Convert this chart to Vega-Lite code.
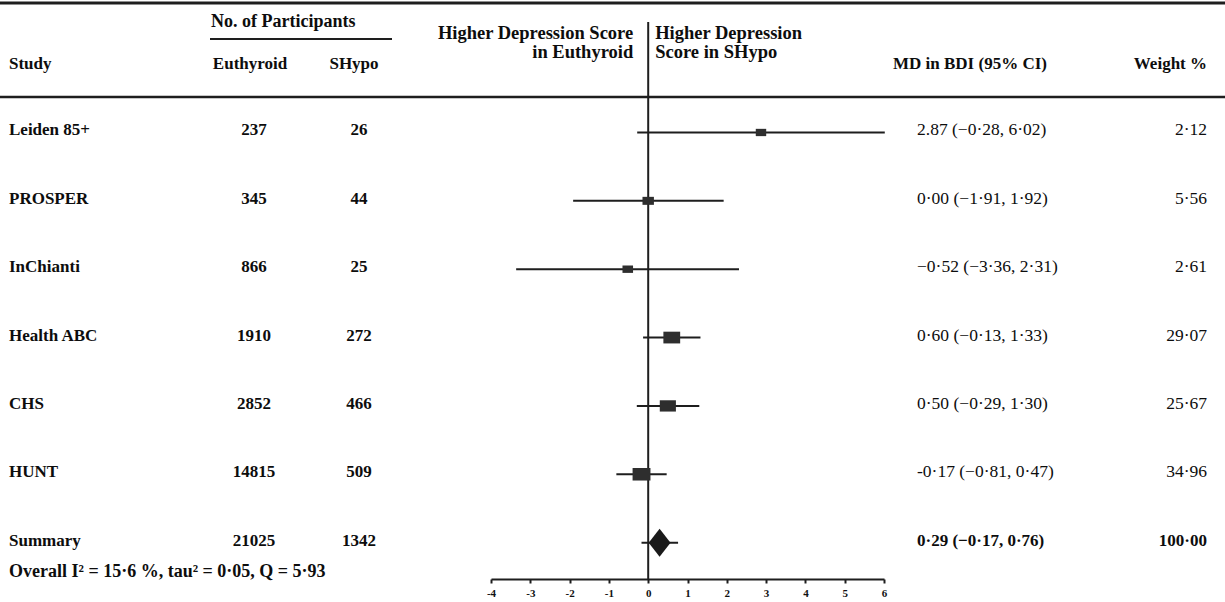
{
  "$schema": "https://vega.github.io/schema/vega-lite/v6.json",
  "width": 1225,
  "height": 579,
  "autosize": {"type": "none"},
  "padding": {"left": 0, "top": 0, "right": 0, "bottom": 23},
  "background": "white",
  "config": {
    "view": {"stroke": null},
    "font": "Liberation Serif",
    "text": {"font": "Liberation Serif", "fontSize": 17, "color": "#0d0d0d", "baseline": "middle"}
  },
  "data": {
    "values": [
      {"study": "Leiden 85+", "row": 1, "euth": 237, "shypo": 26, "md": 2.87, "lo": -0.28, "hi": 6.02, "weight": 2.12, "ci": "2.87 (−0·28, 6·02)", "wt": "2·12", "kind": "study"},
      {"study": "PROSPER", "row": 2, "euth": 345, "shypo": 44, "md": 0.0, "lo": -1.91, "hi": 1.92, "weight": 5.56, "ci": "0·00  (−1·91, 1·92)", "wt": "5·56", "kind": "study"},
      {"study": "InChianti", "row": 3, "euth": 866, "shypo": 25, "md": -0.52, "lo": -3.36, "hi": 2.31, "weight": 2.61, "ci": "−0·52  (−3·36, 2·31)", "wt": "2·61", "kind": "study"},
      {"study": "Health ABC", "row": 4, "euth": 1910, "shypo": 272, "md": 0.6, "lo": -0.13, "hi": 1.33, "weight": 29.07, "ci": "0·60  (−0·13, 1·33)", "wt": "29·07", "kind": "study"},
      {"study": "CHS", "row": 5, "euth": 2852, "shypo": 466, "md": 0.5, "lo": -0.29, "hi": 1.3, "weight": 25.67, "ci": "0·50 (−0·29, 1·30)", "wt": "25·67", "kind": "study"},
      {"study": "HUNT", "row": 6, "euth": 14815, "shypo": 509, "md": -0.17, "lo": -0.81, "hi": 0.47, "weight": 34.96, "ci": "-0·17 (−0·81, 0·47)", "wt": "34·96", "kind": "study"},
      {"study": "Summary", "row": 7, "euth": 21025, "shypo": 1342, "md": 0.29, "lo": -0.17, "hi": 0.76, "weight": 100, "ci": "0·29 (−0·17, 0·76)", "wt": "100·00", "kind": "summary"}
    ]
  },
  "layer": [
    {
      "layer": [
        {
          "mark": {"type": "rule", "color": "#1e1e1e", "strokeWidth": 2},
          "encoding": {
            "x": {
              "field": "lo", "type": "quantitative", "title": null,
              "scale": {"domain": [-4, 6], "range": [491, 884], "nice": false, "zero": false},
              "axis": {
                "title": null, "values": [-4, -3, -2, -1, 0, 1, 2, 3, 4, 5, 6],
                "labelExpr": "'' + datum.value", "grid": false,
                "domainColor": "#1e1e1e", "domainWidth": 2,
                "tickColor": "#1e1e1e", "tickWidth": 2, "tickSize": 4,
                "labelFont": "Liberation Serif", "labelFontSize": 11, "labelFontWeight": "bold",
                "labelColor": "#111111", "labelPadding": 4, "labelFlush": false
              }
            },
            "x2": {"field": "hi", "title": null},
            "y": {
              "field": "row", "type": "quantitative",
              "scale": {"domain": [-0.938, 7.532], "reverse": true, "nice": false, "zero": false},
              "axis": null
            }
          }
        },
        {
          "data": {"values": [{}]},
          "mark": {"type": "rule", "color": "#1e1e1e", "strokeWidth": 2},
          "encoding": {
            "x": {"datum": 0, "type": "quantitative", "title": null},
            "y": {"datum": -0.616, "type": "quantitative", "axis": null},
            "y2": {"datum": 7.532}
          }
        },
        {
          "transform": [{"filter": "datum.kind == 'study'"}],
          "mark": {"type": "point", "filled": true, "opacity": 1, "color": "#2e2e2e", "strokeWidth": 0, "shape": "M-1,-0.7L1,-0.7L1,0.7L-1,0.7Z"},
          "encoding": {
            "x": {"field": "md", "type": "quantitative", "title": null},
            "y": {"field": "row", "type": "quantitative", "axis": null},
            "size": {"field": "weight", "type": "quantitative", "scale": {"domain": [0, 35], "range": [95, 320]}, "legend": null}
          }
        },
        {
          "transform": [{"filter": "datum.kind == 'summary'"}],
          "mark": {"type": "point", "filled": true, "opacity": 1, "color": "#1a1a1a", "strokeWidth": 0, "shape": "M-0.78,0L0,-1L0.78,0L0,1Z", "size": 784},
          "encoding": {
            "x": {"field": "md", "type": "quantitative", "title": null},
            "y": {"field": "row", "type": "quantitative", "axis": null}
          }
        },
        {
          "data": {"values": [{}]},
          "mark": {"type": "text", "align": "right", "dx": -15, "fontWeight": "bold", "fontSize": 18.5},
          "encoding": {
            "x": {"datum": 0, "type": "quantitative", "title": null},
            "y": {"datum": -0.456, "type": "quantitative", "axis": null},
            "text": {"value": "Higher Depression Score"}
          }
        },
        {
          "data": {"values": [{}]},
          "mark": {"type": "text", "align": "right", "dx": -15, "fontWeight": "bold", "fontSize": 18.5},
          "encoding": {
            "x": {"datum": 0, "type": "quantitative", "title": null},
            "y": {"datum": -0.178, "type": "quantitative", "axis": null},
            "text": {"value": "in Euthyroid"}
          }
        },
        {
          "data": {"values": [{}]},
          "mark": {"type": "text", "align": "left", "dx": 7, "fontWeight": "bold", "fontSize": 18.5},
          "encoding": {
            "x": {"datum": 0, "type": "quantitative", "title": null},
            "y": {"datum": -0.456, "type": "quantitative", "axis": null},
            "text": {"value": "Higher Depression"}
          }
        },
        {
          "data": {"values": [{}]},
          "mark": {"type": "text", "align": "left", "dx": 7, "fontWeight": "bold", "fontSize": 18.5},
          "encoding": {
            "x": {"datum": 0, "type": "quantitative", "title": null},
            "y": {"datum": -0.178, "type": "quantitative", "axis": null},
            "text": {"value": "Score in  SHypo"}
          }
        }
      ]
    },
    {
      "layer": [
        {
          "mark": {"type": "text", "align": "left", "dy": -2, "fontWeight": "bold"},
          "encoding": {
            "x": {
              "datum": 0, "type": "quantitative",
              "scale": {"domain": [0, 1, 2, 3, 4], "range": [9, 254, 359, 917, 1207], "nice": false, "zero": false},
              "axis": null
            },
            "y": {"field": "row", "type": "quantitative", "axis": null},
            "text": {"field": "study", "type": "nominal"}
          }
        },
        {
          "mark": {"type": "text", "align": "center", "dy": -2, "fontWeight": "bold"},
          "encoding": {
            "x": {"datum": 1, "type": "quantitative", "axis": null},
            "y": {"field": "row", "type": "quantitative", "axis": null},
            "text": {"field": "euth", "type": "nominal"}
          }
        },
        {
          "mark": {"type": "text", "align": "center", "dy": -2, "fontWeight": "bold"},
          "encoding": {
            "x": {"datum": 2, "type": "quantitative", "axis": null},
            "y": {"field": "row", "type": "quantitative", "axis": null},
            "text": {"field": "shypo", "type": "nominal"}
          }
        },
        {
          "transform": [{"filter": "datum.kind == 'study'"}],
          "mark": {"type": "text", "align": "left", "dy": -2, "fontWeight": "normal", "fontSize": 17.5},
          "encoding": {
            "x": {"datum": 3, "type": "quantitative", "axis": null},
            "y": {"field": "row", "type": "quantitative", "axis": null},
            "text": {"field": "ci", "type": "nominal"}
          }
        },
        {
          "transform": [{"filter": "datum.kind == 'summary'"}],
          "mark": {"type": "text", "align": "left", "dy": -2, "fontWeight": "bold", "fontSize": 17},
          "encoding": {
            "x": {"datum": 3, "type": "quantitative", "axis": null},
            "y": {"field": "row", "type": "quantitative", "axis": null},
            "text": {"field": "ci", "type": "nominal"}
          }
        },
        {
          "transform": [{"filter": "datum.kind == 'study'"}],
          "mark": {"type": "text", "align": "right", "dy": -2, "fontWeight": "normal", "fontSize": 17.5},
          "encoding": {
            "x": {"datum": 4, "type": "quantitative", "axis": null},
            "y": {"field": "row", "type": "quantitative", "axis": null},
            "text": {"field": "wt", "type": "nominal"}
          }
        },
        {
          "transform": [{"filter": "datum.kind == 'summary'"}],
          "mark": {"type": "text", "align": "right", "dy": -2, "fontWeight": "bold"},
          "encoding": {
            "x": {"datum": 4, "type": "quantitative", "axis": null},
            "y": {"field": "row", "type": "quantitative", "axis": null},
            "text": {"field": "wt", "type": "nominal"}
          }
        },
        {
          "data": {"values": [{}]},
          "mark": {"type": "text", "align": "left", "fontWeight": "bold"},
          "encoding": {
            "x": {"datum": 0, "type": "quantitative", "axis": null},
            "y": {"datum": 0, "type": "quantitative", "axis": null},
            "text": {"value": "Study"}
          }
        },
        {
          "data": {"values": [{}]},
          "mark": {"type": "text", "align": "center", "dx": -4, "fontWeight": "bold"},
          "encoding": {
            "x": {"datum": 1, "type": "quantitative", "axis": null},
            "y": {"datum": 0, "type": "quantitative", "axis": null},
            "text": {"value": "Euthyroid"}
          }
        },
        {
          "data": {"values": [{}]},
          "mark": {"type": "text", "align": "center", "dx": -5, "fontWeight": "bold"},
          "encoding": {
            "x": {"datum": 2, "type": "quantitative", "axis": null},
            "y": {"datum": 0, "type": "quantitative", "axis": null},
            "text": {"value": "SHypo"}
          }
        },
        {
          "data": {"values": [{}]},
          "mark": {"type": "text", "align": "left", "dx": -24, "fontWeight": "bold"},
          "encoding": {
            "x": {"datum": 3, "type": "quantitative", "axis": null},
            "y": {"datum": 0, "type": "quantitative", "axis": null},
            "text": {"value": "MD in BDI (95% CI)"}
          }
        },
        {
          "data": {"values": [{}]},
          "mark": {"type": "text", "align": "right", "fontWeight": "bold"},
          "encoding": {
            "x": {"datum": 4, "type": "quantitative", "axis": null},
            "y": {"datum": 0, "type": "quantitative", "axis": null},
            "text": {"value": "Weight %"}
          }
        },
        {
          "data": {"values": [{}]},
          "mark": {"type": "text", "align": "left", "dx": -43, "fontWeight": "bold", "fontSize": 18},
          "encoding": {
            "x": {"datum": 1, "type": "quantitative", "axis": null},
            "y": {"datum": -0.616, "type": "quantitative", "axis": null},
            "text": {"value": "No. of Participants"}
          }
        },
        {
          "data": {"values": [{}]},
          "mark": {"type": "rule", "color": "#1e1e1e", "strokeWidth": 2, "xOffset": -44, "x2Offset": 33},
          "encoding": {
            "x": {"datum": 1, "type": "quantitative", "axis": null},
            "x2": {"datum": 2},
            "y": {"datum": -0.368, "type": "quantitative", "axis": null}
          }
        },
        {
          "data": {"values": [{}]},
          "mark": {"type": "text", "align": "left", "fontWeight": "bold", "fontSize": 18},
          "encoding": {
            "x": {"datum": 0, "type": "quantitative", "axis": null},
            "y": {"datum": 7.43, "type": "quantitative", "axis": null},
            "text": {"value": "Overall I² = 15·6 %, tau² = 0·05, Q = 5·93"}
          }
        },
        {
          "data": {"values": [{}]},
          "mark": {"type": "rule", "color": "#1e1e1e", "strokeWidth": 3},
          "encoding": {
            "y": {"datum": -0.894, "type": "quantitative", "axis": null}
          }
        },
        {
          "data": {"values": [{}]},
          "mark": {"type": "rule", "color": "#1e1e1e", "strokeWidth": 2.5},
          "encoding": {
            "y": {"datum": 0.48, "type": "quantitative", "axis": null}
          }
        }
      ]
    }
  ],
  "resolve": {"scale": {"x": "independent"}, "axis": {"x": "independent"}}
}
